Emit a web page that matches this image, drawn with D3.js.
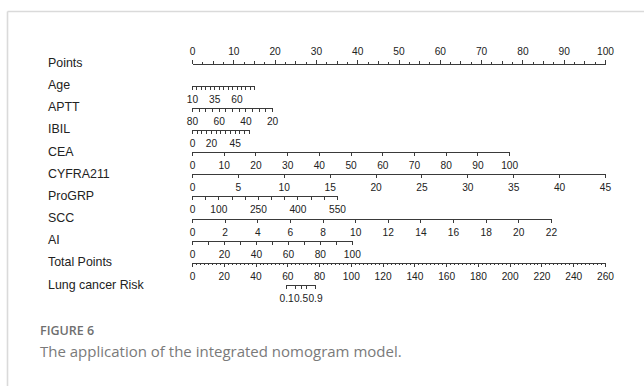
<!DOCTYPE html>
<html>
<head>
<meta charset="utf-8">
<script src="https://cdn.jsdelivr.net/npm/d3@7"></script>
<style>
  html, body { margin: 0; padding: 0; background: #fff; }
  svg { display: block; }
  .axis text { font-family: "Liberation Sans", Arial, sans-serif; font-size: 10.2px; fill: #222; }
  .axis path, .axis line { stroke: #3a3a3a; stroke-width: 1; shape-rendering: crispEdges; }
  .rowlabel { font-family: "Liberation Sans", Arial, sans-serif; font-size: 12.4px; fill: #222; }
</style>
</head>
<body>
<script>
// Nomogram rows, top to bottom
const rowNames = ["Points", "Age", "APTT", "IBIL", "CEA", "CYFRA211", "ProGRP", "SCC", "AI", "Total Points", "Lung cancer Risk"];

// Points scale
const pointTicks = d3.range(0, 100.1, 2.5);
const pointLabels = [0, 10, 20, 30, 40, 50, 60, 70, 80, 90, 100];

// Predictors: tick values, printed labels, and points reached at the last value
const ageTicks = [10, 15, 20, 25, 30, 35, 40, 45, 50, 55, 60, 65, 70, 75, 80];
const ageLabels = [10, 35, 60];
const agePoints = [0, 15.1];

const apttTicks = [80, 75, 70, 65, 60, 55, 50, 45, 40, 35, 30, 25, 20];
const apttLabels = [80, 60, 40, 20];
const apttPoints = [0, 19.4];

const ibilTicks = [0, 5, 10, 15, 20, 25, 30, 35, 40, 45, 50, 55, 60];
const ibilLabels = [0, 20, 45];
const ibilPoints = [0, 13.8];

const ceaTicks = [0, 10, 20, 30, 40, 50, 60, 70, 80, 90, 100];
const ceaLabels = ceaTicks;
const ceaPoints = [0, 76.8];

const cyfraTicks = [0, 5, 10, 15, 20, 25, 30, 35, 40, 45];
const cyfraLabels = cyfraTicks;
const cyfraPoints = [0, 100];

const progrpTicks = [0, 50, 100, 150, 200, 250, 300, 350, 400, 450, 500, 550];
const progrpLabels = [0, 100, 250, 400, 550];
const progrpPoints = [0, 35.1];

const sccTicks = [0, 2, 4, 6, 8, 10, 12, 14, 16, 18, 20, 22];
const sccLabels = sccTicks;
const sccPoints = [0, 86.9];

const aiTicks = [0, 10, 20, 30, 40, 50, 60, 70, 80, 90, 100];
const aiLabels = [0, 20, 40, 60, 80, 100];
const aiPoints = [0, 38.7];

// Total points scale
const totalTicks = d3.range(0, 261, 2.5);
const totalLabels = [0, 20, 40, 60, 80, 100, 120, 140, 160, 180, 200, 220, 240, 260];

// Risk: logit(p) = riskIntercept + riskSlope * totalPoints
const riskProbs = [0.1, 0.3, 0.5, 0.7, 0.9];
const riskLabels = [0.1, 0.5, 0.9];
const riskIntercept = -16.49;
const riskSlope = 0.2414;

const predictors = [
  { ticks: ageTicks, labels: ageLabels, points: agePoints },
  { ticks: apttTicks, labels: apttLabels, points: apttPoints },
  { ticks: ibilTicks, labels: ibilLabels, points: ibilPoints },
  { ticks: ceaTicks, labels: ceaLabels, points: ceaPoints },
  { ticks: cyfraTicks, labels: cyfraLabels, points: cyfraPoints },
  { ticks: progrpTicks, labels: progrpLabels, points: progrpPoints },
  { ticks: sccTicks, labels: sccLabels, points: sccPoints },
  { ticks: aiTicks, labels: aiLabels, points: aiPoints }
];

const W = 644, H = 386;
const svg = d3.select("body").append("svg").attr("width", W).attr("height", H);

// Panel frame (top and left rules)
svg.append("line").attr("x1", 7.5).attr("x2", W).attr("y1", 11.5).attr("y2", 11.5)
  .attr("stroke", "#dadada").attr("stroke-width", 1.6);
svg.append("line").attr("x1", 7.5).attr("x2", 7.5).attr("y1", 11.5).attr("y2", H)
  .attr("stroke", "#dadada").attr("stroke-width", 1.6);

const xPts = d3.scaleLinear().domain([0, 100]).range([192, 605]);
const yRow = d3.scaleLinear().domain([0, rowNames.length - 1]).range([62.5, 284]);
const fmt = labels => d => labels.includes(d) ? String(d) : "";

// Row names
svg.selectAll("text.rowlabel").data(rowNames).join("text")
  .attr("class", "rowlabel")
  .attr("x", 48)
  .attr("y", (d, i) => yRow(i) + 4.5)
  .text(d => d);

// Points axis: ticks upward, labels above
const gPts = svg.append("g").attr("class", "axis")
  .attr("transform", `translate(0,${Math.round(yRow(0)) + 0.5})`)
  .call(d3.axisTop(xPts).tickValues(pointTicks).tickFormat(fmt(pointLabels))
    .tickSize(4).tickSizeOuter(0).tickPadding(5));
gPts.selectAll(".tick line").attr("y2", d => d % 10 === 0 ? -4 : (d % 5 === 0 ? -3 : -2));

// Predictor axes: ticks downward, labels below
predictors.forEach((p, i) => {
  const v0 = p.ticks[0], v1 = p.ticks[p.ticks.length - 1];
  const toPts = d3.scaleLinear().domain([v0, v1]).range(p.points);
  const xs = d3.scaleLinear().domain([v0, v1]).range([xPts(toPts(v0)), xPts(toPts(v1))]);
  svg.append("g").attr("class", "axis")
    .attr("transform", `translate(0,${Math.round(yRow(i + 1)) + 0.5})`)
    .call(d3.axisBottom(xs).tickValues(p.ticks).tickFormat(fmt(p.labels))
      .tickSize(4).tickSizeOuter(0).tickPadding(6));
});

// Total points axis
const xTot = d3.scaleLinear().domain([0, 260]).range([192, 605]);
const gTot = svg.append("g").attr("class", "axis")
  .attr("transform", `translate(0,${Math.round(yRow(9)) + 0.5})`)
  .call(d3.axisBottom(xTot).tickValues(totalTicks).tickFormat(fmt(totalLabels))
    .tickSize(4).tickSizeOuter(0).tickPadding(6));
gTot.selectAll(".tick line").attr("y2", d => d % 20 === 0 ? 4 : 2.5);

// Risk axis, placed on the total points scale
const logit = p => Math.log(p / (1 - p));
const riskTP = riskProbs.map(p => (logit(p) - riskIntercept) / riskSlope);
const xRisk = d3.scaleLinear().domain([riskTP[0], riskTP[riskTP.length - 1]])
  .range([xTot(riskTP[0]), xTot(riskTP[riskTP.length - 1])]);
svg.append("g").attr("class", "axis")
  .attr("transform", `translate(0,${Math.round(yRow(10)) + 0.5})`)
  .call(d3.axisBottom(xRisk).tickValues(riskTP)
    .tickFormat((d, i) => riskLabels.includes(riskProbs[i]) ? String(riskProbs[i]) : "")
    .tickSize(4).tickSizeOuter(0).tickPadding(6));

// Caption
svg.append("text").attr("x", 40).attr("y", 334.5)
  .style("font-family", "'Open Sans', sans-serif").style("font-size", "12.5px")
  .style("font-weight", 600).style("fill", "#6f6f6f")
  .text("FIGURE 6");
svg.append("text").attr("x", 40).attr("y", 357)
  .style("font-family", "'Open Sans', sans-serif").style("font-size", "15px")
  .style("fill", "#7a7a7a")
  .text("The application of the integrated nomogram model.");
</script>
</body>
</html>
